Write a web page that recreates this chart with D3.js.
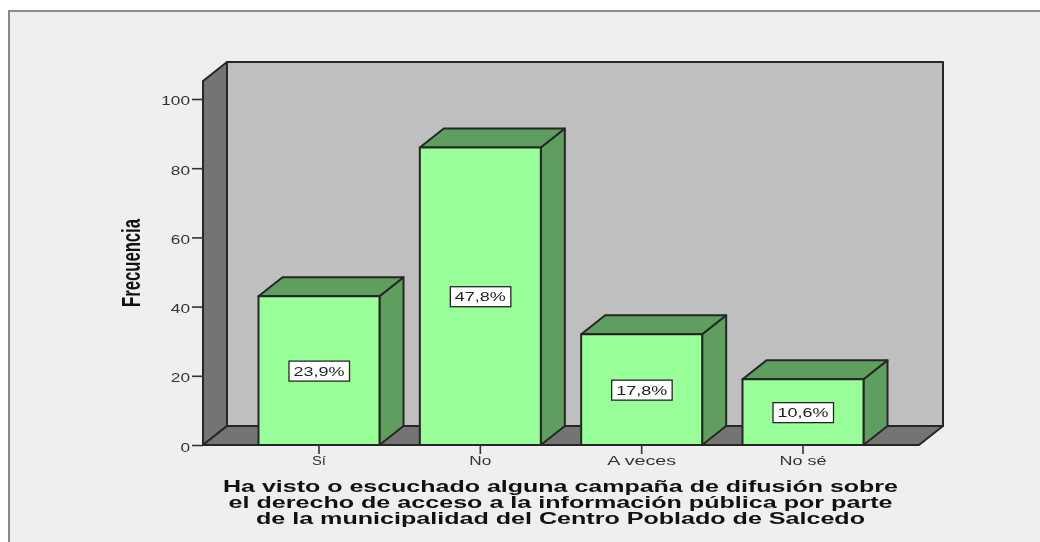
<!DOCTYPE html>
<html><head><meta charset="utf-8">
<script src="https://cdn.jsdelivr.net/npm/d3@7/dist/d3.min.js"></script>
<style>html,body{margin:0;padding:0;background:#fff}svg{display:block;filter:blur(.55px)}text{font-family:"Liberation Sans",Arial,sans-serif}</style>
</head><body><svg id="c" width="1040" height="542"></svg>
<script>
const categories = ["Sí","No","A veces","No sé"];
const frequencies = [43,86,32,19];
const percentLabels = ["23,9%","47,8%","17,8%","10,6%"];
const yTicks = [0,20,40,60,80,100];
const yTitle = "Frecuencia";
const xTitleLines = [
  "Ha visto o escuchado alguna campaña de difusión sobre",
  "el derecho de acceso a la información pública por parte",
  "de la municipalidad del Centro Poblado de Salcedo"];
const xTitleWidths = [675,664,609];
const xLabelWidths = [14,22,69,47];

const svg = d3.select("#c");
const ink = "#262626", dx = 24, dy = -19;
const y = d3.scaleLinear().domain([0,105.2]).range([445,81]);
const x = d3.scaleBand().domain(categories).range([203,919]).paddingInner(.25).paddingOuter(.344);

svg.append("rect").attr("x",9).attr("y",11).attr("width",1040).attr("height",540)
  .attr("fill","#efefef").attr("stroke","#8a8a8a").attr("stroke-width",2);

const poly = (pts,fill,sw=2)=>svg.append("polygon").attr("points",pts.map(p=>p.join(",")).join(" "))
  .attr("fill",fill).attr("stroke",ink).attr("stroke-width",sw).attr("stroke-linejoin","round");

const x0=x.range()[0], x1=x.range()[1], y0=y(0), yT=y(105.2);
poly([[x0+dx,yT+dy],[x1+dx,yT+dy],[x1+dx,y0+dy],[x0+dx,y0+dy]],"#bfbfbf");
poly([[x0,yT],[x0+dx,yT+dy],[x0+dx,y0+dy],[x0,y0]],"#747474");
poly([[x0,y0],[x0+dx,y0+dy],[x1+dx,y0+dy],[x1,y0]],"#747474");

categories.forEach((c,i)=>{
  const l=x(c), r=l+x.bandwidth(), t=y(frequencies[i]);
  poly([[r,t],[r+dx,t+dy],[r+dx,y0+dy],[r,y0]],"#5f9e5f");
  poly([[l,t],[l+dx,t+dy],[r+dx,t+dy],[r,t]],"#5f9e5f");
  poly([[l,t],[r,t],[r,y0],[l,y0]],"#99ff99");
  const cx=(l+r)/2, cy=y(frequencies[i]/2);
  svg.append("rect").attr("x",cx-30).attr("y",cy-9.5).attr("width",60.5).attr("height",20)
    .attr("fill","#fff").attr("stroke",ink).attr("stroke-width",1.3);
  svg.append("text").attr("x",cx).attr("y",cy+5).attr("text-anchor","middle")
    .attr("font-size",13).attr("textLength",51).attr("lengthAdjust","spacingAndGlyphs").attr("fill","#222").text(percentLabels[i]);
});

const yAxis = d3.axisLeft(y).tickValues(yTicks).tickSize(11).tickPadding(2);
const gy = svg.append("g").attr("transform",`translate(${x0},0)`).call(yAxis);
gy.select(".domain").remove();
gy.selectAll("line").attr("stroke","#333").attr("stroke-width",1.6);
gy.selectAll("text").attr("font-size",12).attr("fill","#333").attr("font-family","Liberation Sans")
  .attr("dy","0.5em")
  .attr("textLength",d=>String(d).length*9.6).attr("lengthAdjust","spacingAndGlyphs");

const xAxis = d3.axisBottom(x).tickSize(9).tickPadding(2);
const gx = svg.append("g").attr("transform",`translate(0,${y0})`).call(xAxis);
gx.select(".domain").remove();
gx.selectAll("line").attr("stroke","#333").attr("stroke-width",1.6);
gx.selectAll("text").attr("font-size",13).attr("fill","#333").attr("font-family","Liberation Sans")
  .attr("textLength",(d,i)=>xLabelWidths[i]).attr("lengthAdjust","spacingAndGlyphs");

svg.append("text").attr("transform","translate(140,263) rotate(-90)").attr("text-anchor","middle")
  .attr("font-size",25).attr("font-weight","bold").attr("fill","#111")
  .attr("textLength",88).attr("lengthAdjust","spacingAndGlyphs").text(yTitle);

xTitleLines.forEach((t,i)=>{
  svg.append("text").attr("x",560.5).attr("y",492+i*16.2).attr("text-anchor","middle")
    .attr("font-size",16).attr("font-weight","bold").attr("fill","#111")
    .attr("textLength",xTitleWidths[i]).attr("lengthAdjust","spacingAndGlyphs").text(t);
});
</script></body></html>
